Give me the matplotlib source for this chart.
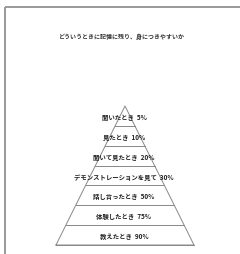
import matplotlib.pyplot as plt

plt.rcParams['font.family'] = ['Noto Sans CJK JP', 'DejaVu Sans']

# Learning pyramid data (top to bottom)
labels = ['聞いたとき', '見たとき', '聞いて見たとき', 'デモンストレーションを見て',
          '話し合ったとき', '体験したとき', '教えたとき']
rates = [5, 10, 20, 30, 50, 75, 90]
title = 'どういうときに記憶に残り、身につきやすいか'

fig = plt.figure(figsize=(2.4, 2.54), dpi=100)
ax = fig.add_axes([0, 0, 1, 1])
ax.set_xlim(0, 240)
ax.set_ylim(254, 0)
ax.axis('off')

# page frame (top and left edge)
ax.plot([5, 240], [7, 7], color='#999999', lw=1.4, solid_capstyle='butt')
ax.plot([5, 5], [7, 254], color='#999999', lw=1.4, solid_capstyle='butt')

ax.text(121, 37, title, fontsize=4.3, color='#333333', ha='center', va='center',
        weight='bold')

# pyramid geometry
apex_x, apex_y = 125, 106
base_y, half_base = 245, 69
n = len(labels)
band = (base_y - apex_y) / n

ax.plot([apex_x - half_base, apex_x, apex_x + half_base, apex_x - half_base],
        [base_y, apex_y, base_y, base_y], color='#888888', lw=0.7)

for i, (lab, r) in enumerate(zip(labels, rates)):
    y_bot = apex_y + band * (i + 1)
    hw = half_base * (y_bot - apex_y) / (base_y - apex_y)
    ax.plot([apex_x - hw, apex_x + hw], [y_bot, y_bot], color='#888888', lw=0.7)
    yc = y_bot - band * 0.42
    ax.text(apex_x - 1, yc, f'{lab}  {r}%', fontsize=4.6, color='#222222',
            ha='center', va='center', weight='bold')

fig.savefig('out.png', dpi=100, facecolor='white')
